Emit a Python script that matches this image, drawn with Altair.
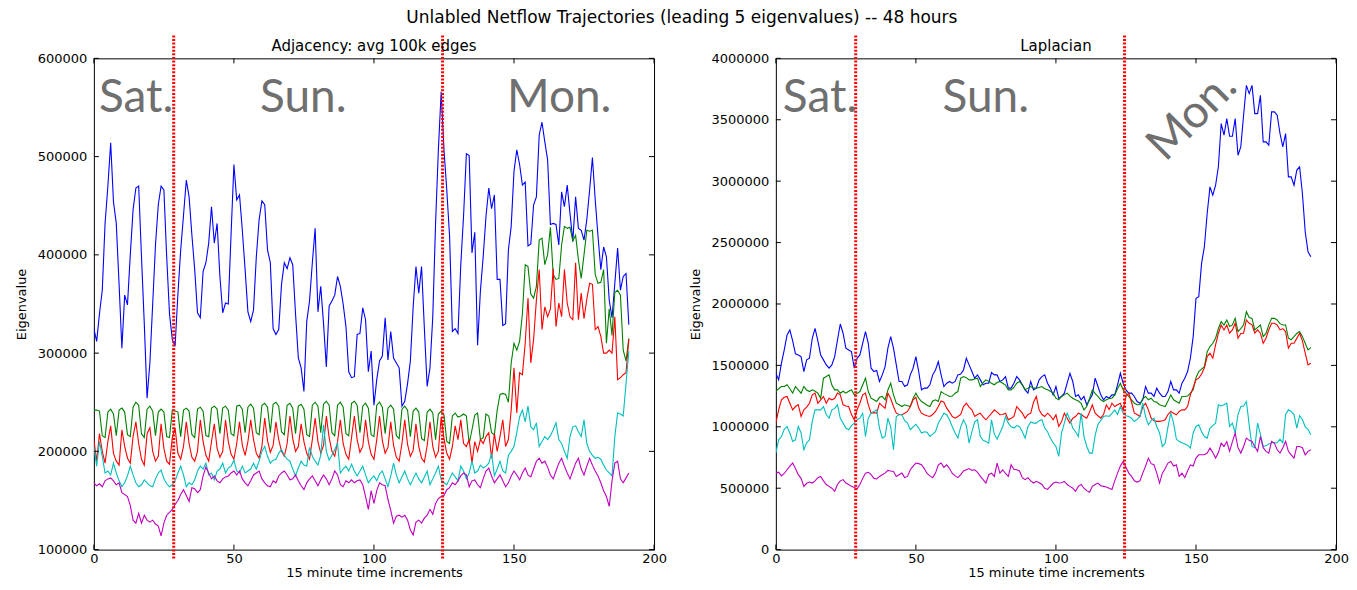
import altair as alt
import pandas as pd

# ---------------- data (eigenvalues, in thousands) ----------------
x_steps = list(range(192))

adj_e1 = [325, 312, 340, 364, 432, 470, 514, 454, 432, 370,
          305, 359, 349, 400, 446, 468, 470, 398, 330, 254,
          290, 350, 410, 451, 470, 466, 398, 340, 314, 307,
          360, 405, 440, 476, 459, 420, 385, 341, 336, 383,
          392, 412, 449, 412, 432, 378, 341, 351, 350, 422,
          492, 456, 461, 425, 385, 342, 332, 344, 398, 436,
          455, 451, 405, 392, 325, 319, 324, 370, 392, 386,
          397, 390, 340, 295, 285, 261, 332, 353, 392, 427,
          342, 368, 330, 286, 348, 353, 359, 378, 368, 350,
          327, 281, 275, 276, 319, 320, 346, 334, 281, 302,
          247, 273, 292, 297, 336, 293, 322, 295, 290, 285,
          246, 251, 269, 292, 347, 388, 361, 388, 325, 266,
          285, 337, 432, 507, 566, 507, 466, 419, 322, 325,
          320, 390, 440, 503, 501, 402, 423, 308, 363, 398,
          439, 468, 447, 461, 375, 375, 328, 330, 405, 429,
          485, 507, 492, 471, 474, 409, 411, 451, 459, 522,
          535, 515, 497, 431, 432, 431, 410, 464, 449, 471,
          442, 414, 459, 427, 425, 415, 436, 466, 499, 456,
          419, 385, 408, 398, 354, 336, 371, 407, 364, 378,
          381, 329]

adj_e2 = [242, 242, 241, 216, 214, 240, 243, 238, 216, 242,
          244, 240, 217, 215, 245, 250, 247, 218, 214, 243,
          246, 241, 216, 240, 243, 240, 215, 214, 242, 241,
          240, 215, 242, 244, 241, 217, 214, 243, 245, 241,
          216, 215, 244, 246, 243, 218, 244, 246, 242, 218,
          216, 246, 247, 243, 219, 245, 248, 244, 219, 217,
          247, 249, 245, 219, 248, 250, 246, 220, 217, 247,
          249, 244, 218, 246, 248, 243, 217, 215, 247, 250,
          246, 219, 248, 251, 247, 219, 216, 247, 250, 245,
          218, 216, 249, 251, 247, 219, 246, 249, 244, 217,
          215, 247, 250, 245, 218, 244, 247, 243, 216, 213,
          243, 246, 242, 215, 241, 244, 240, 213, 211, 240,
          243, 239, 212, 238, 241, 237, 210, 208, 236, 239,
          235, 236, 238, 236, 208, 222, 237, 239, 212, 214,
          238, 236, 219, 217, 242, 258, 259, 258, 250, 290,
          310, 303, 312, 340, 390, 388, 360, 356, 368, 415,
          417, 390, 400, 428, 380, 375, 376, 410, 429, 427,
          428, 414, 420, 395, 376, 400, 425, 424, 425, 380,
          371, 372, 385, 310, 345, 318, 362, 364, 359, 303,
          292, 315]

adj_e3 = [212, 190, 218, 200, 188, 210, 226, 198, 190, 186,
          222, 205, 193, 188, 215, 230, 208, 192, 186, 218,
          224, 200, 190, 195, 228, 203, 190, 187, 214, 224,
          198, 192, 205, 230, 208, 194, 190, 200, 232, 210,
          196, 190, 210, 228, 203, 194, 200, 232, 210, 197,
          192, 208, 230, 206, 196, 210, 232, 212, 198, 193,
          205, 234, 211, 199, 206, 230, 212, 200, 195, 208,
          236, 213, 200, 205, 228, 210, 198, 192, 212, 234,
          210, 198, 206, 236, 214, 200, 195, 210, 232, 208,
          197, 192, 214, 236, 212, 199, 205, 232, 210, 197,
          192, 212, 236, 211, 198, 204, 230, 206, 194, 190,
          208, 232, 207, 195, 201, 228, 205, 193, 189, 206,
          230, 205, 194, 200, 235, 213, 198, 192, 205, 226,
          212, 232, 208, 205, 212, 188, 210, 200, 212, 208,
          215, 219, 193, 218, 200, 215, 232, 205, 212, 242,
          285, 239, 280, 278, 310, 356, 290, 314, 354, 385,
          324, 347, 337, 345, 386, 327, 351, 337, 385, 351,
          337, 334, 392, 334, 361, 335, 355, 371, 370, 324,
          327, 317, 300, 300, 303, 300, 337, 273, 275, 278,
          280, 314]

adj_e4 = [205, 185, 210, 195, 178, 180, 176, 188, 178, 170,
          164, 168, 175, 185, 176, 168, 164, 166, 171, 168,
          165, 164, 172, 178, 181, 172, 167, 164, 166, 170,
          178, 185, 176, 164, 168, 166, 171, 180, 185, 182,
          188, 176, 178, 171, 180, 182, 188, 178, 183, 185,
          191, 180, 178, 185, 178, 180, 182, 188, 182, 190,
          200, 205, 195, 188, 191, 192, 198, 202, 196, 192,
          190, 182, 175, 183, 190, 186, 185, 204, 195, 190,
          186, 196, 227, 200, 191, 196, 202, 208, 178, 182,
          185, 180, 187, 180, 175, 180, 185, 176, 168, 172,
          175, 170, 177, 180, 172, 164, 175, 188, 176, 168,
          174, 180, 172, 166, 172, 178, 172, 168, 174, 180,
          166, 172, 178, 185, 171, 168, 166, 172, 178, 174,
          170, 185, 180, 172, 178, 190, 178, 180, 186, 183,
          185, 188, 198, 175, 182, 190, 180, 178, 196, 200,
          205, 219, 235, 242, 230, 246, 225, 222, 229, 205,
          210, 215, 212, 216, 222, 229, 212, 208, 200, 193,
          215, 225, 226, 220, 215, 232, 208, 200, 196, 193,
          194, 192, 186, 181, 178, 175, 215, 239, 238, 236,
          269, 302]

adj_e5 = [168, 165, 167, 164, 170, 172, 173, 170, 166, 168,
          158, 156, 154, 145, 130, 127, 137, 127, 135, 130,
          128, 130, 126, 124, 114, 127, 135, 138, 141, 146,
          150, 156, 161, 155, 149, 163, 162, 158, 161, 175,
          184, 178, 172, 175, 170, 168, 172, 174, 175, 178,
          180, 176, 180, 172, 168, 165, 170, 176, 178, 180,
          172, 168, 165, 164, 170, 168, 175, 178, 180, 176,
          171, 172, 176, 170, 165, 161, 168, 172, 175, 170,
          165, 171, 176, 172, 166, 172, 180, 176, 166, 164,
          170, 168, 171, 168, 170, 171, 166, 154, 141, 160,
          147, 160, 168, 166, 165, 151, 140, 127, 134, 135,
          133, 135, 130, 120, 115, 128, 130, 127, 132, 135,
          141, 136, 147, 152, 154, 155, 161, 163, 168, 166,
          170, 175, 178, 176, 164, 170, 171, 166, 163, 172,
          180, 183, 175, 168, 172, 176, 170, 164, 168, 175,
          180, 176, 171, 178, 183, 176, 174, 182, 190, 193,
          188, 190, 184, 176, 172, 180, 188, 193, 185, 178,
          172, 180, 188, 193, 182, 176, 185, 193, 186, 180,
          175, 168, 160, 154, 144, 170, 188, 190, 172, 168,
          173, 178]

lap_e1 = [1436, 1382, 1518, 1626, 1748, 1789, 1700, 1594, 1585, 1572,
          1450, 1545, 1558, 1721, 1802, 1700, 1585, 1545, 1504, 1477,
          1504, 1572, 1707, 1837, 1762, 1640, 1626, 1612, 1477, 1558,
          1585, 1680, 1775, 1680, 1477, 1450, 1458, 1369, 1423, 1490,
          1640, 1734, 1640, 1504, 1369, 1369, 1328, 1342, 1423, 1477,
          1572, 1450, 1301, 1315, 1315, 1342, 1423, 1463, 1531, 1423,
          1328, 1355, 1369, 1355, 1369, 1423, 1430, 1463, 1558, 1504,
          1450, 1396, 1423, 1382, 1342, 1355, 1355, 1442, 1423, 1423,
          1369, 1382, 1409, 1315, 1315, 1355, 1409, 1382, 1342, 1301,
          1274, 1369, 1301, 1315, 1382, 1409, 1423, 1355, 1315, 1260,
          1328, 1233, 1247, 1274, 1355, 1436, 1369, 1247, 1260, 1220,
          1247, 1179, 1220, 1260, 1396, 1328, 1260, 1220, 1247, 1233,
          1260, 1260, 1342, 1436, 1355, 1301, 1274, 1274, 1247, 1206,
          1192, 1220, 1328, 1274, 1274, 1247, 1315, 1274, 1247, 1247,
          1287, 1369, 1301, 1301, 1274, 1355, 1396, 1450, 1558, 1734,
          2046, 2060, 2331, 2466, 2737, 2954, 2886, 2967, 3117, 3469,
          3374, 3509, 3366, 3366, 3509, 3211, 3279, 3537, 3780, 3713,
          3780, 3550, 3550, 3699, 3320, 3320, 3293, 3564, 3564, 3537,
          3388, 3279, 3388, 3035, 3035, 2967, 3090, 3117, 2900, 2588,
          2425, 2385]

lap_e2 = [1287, 1310, 1328, 1328, 1342, 1310, 1274, 1328, 1300, 1274,
          1328, 1300, 1287, 1301, 1290, 1274, 1233, 1396, 1409, 1423,
          1340, 1301, 1301, 1274, 1290, 1274, 1290, 1301, 1260, 1270,
          1287, 1340, 1396, 1287, 1233, 1220, 1206, 1240, 1247, 1220,
          1300, 1355, 1260, 1192, 1180, 1165, 1179, 1172, 1165, 1230,
          1274, 1233, 1206, 1192, 1175, 1165, 1210, 1220, 1206, 1287,
          1270, 1260, 1247, 1250, 1274, 1287, 1396, 1409, 1400, 1382,
          1382, 1390, 1396, 1328, 1360, 1382, 1370, 1355, 1342, 1360,
          1369, 1355, 1340, 1301, 1301, 1320, 1355, 1369, 1340, 1301,
          1315, 1328, 1315, 1315, 1320, 1328, 1310, 1301, 1290, 1274,
          1233, 1220, 1247, 1260, 1274, 1250, 1233, 1220, 1210, 1192,
          1138, 1165, 1230, 1301, 1270, 1247, 1220, 1206, 1220, 1230,
          1233, 1260, 1310, 1355, 1301, 1274, 1247, 1220, 1192, 1179,
          1179, 1230, 1247, 1220, 1233, 1206, 1200, 1180, 1172, 1165,
          1210, 1260, 1220, 1206, 1192, 1247, 1247, 1250, 1274, 1301,
          1400, 1450, 1470, 1490, 1612, 1653, 1680, 1721, 1800, 1856,
          1829, 1870, 1816, 1829, 1883, 1775, 1800, 1829, 1937, 1890,
          1883, 1789, 1810, 1829, 1734, 1760, 1830, 1883, 1883, 1870,
          1840, 1829, 1829, 1721, 1708, 1734, 1760, 1775, 1734, 1680,
          1626, 1645]

lap_e3 = [1030, 1138, 1220, 1240, 1247, 1192, 1138, 1165, 1180, 1084,
          1138, 1160, 1192, 1260, 1274, 1192, 1220, 1247, 1192, 1233,
          1220, 1230, 1274, 1260, 1179, 1170, 1165, 1100, 1057, 1138,
          1192, 1260, 1274, 1179, 1111, 1115, 1111, 1192, 1170, 1152,
          1274, 1230, 1165, 1111, 1100, 1098, 1110, 1125, 1165, 1220,
          1240, 1152, 1111, 1098, 1090, 1084, 1100, 1125, 1165, 1210,
          1200, 1152, 1120, 1084, 1070, 1084, 1100, 1165, 1192, 1160,
          1138, 1084, 1100, 1111, 1080, 1057, 1084, 1110, 1138, 1120,
          1098, 1100, 1111, 1057, 1070, 1084, 1165, 1138, 1111, 1070,
          1100, 1111, 1200, 1247, 1138, 1100, 1084, 1111, 1090, 1057,
          1098, 1003, 1040, 1111, 1070, 1030, 1070, 1084, 1111, 1100,
          1084, 1070, 1120, 1179, 1111, 1090, 1070, 1100, 1179, 1140,
          1192, 1165, 1180, 1192, 1138, 1247, 1274, 1200, 1111, 1100,
          1084, 1165, 1192, 1138, 1071, 1050, 1044, 1044, 1050, 1057,
          1100, 1125, 1111, 1098, 1125, 1138, 1138, 1165, 1260, 1320,
          1382, 1396, 1430, 1480, 1572, 1599, 1558, 1667, 1760, 1829,
          1789, 1829, 1762, 1789, 1843, 1721, 1760, 1762, 1870, 1843,
          1830, 1762, 1789, 1762, 1680, 1721, 1790, 1843, 1843, 1830,
          1789, 1800, 1775, 1640, 1680, 1680, 1720, 1762, 1700, 1599,
          1504, 1517]

lap_e4 = [786, 894, 921, 980, 1003, 949, 881, 894, 1003, 950,
          813, 870, 894, 1044, 1138, 1138, 1138, 1165, 1100, 1070,
          1138, 1150, 1179, 1070, 1030, 990, 976, 1010, 1030, 1057,
          1070, 1111, 921, 1070, 1111, 1125, 1138, 990, 908, 921,
          1070, 1000, 813, 1084, 1098, 1098, 1050, 1030, 976, 1000,
          1020, 990, 949, 960, 955, 921, 940, 960, 1030, 1070,
          1111, 1098, 1057, 1000, 949, 908, 1000, 1057, 1010, 867,
          960, 1040, 1057, 921, 890, 881, 867, 1057, 940, 900,
          949, 1000, 1084, 1030, 1000, 990, 1010, 1000, 960, 908,
          1000, 1040, 1030, 1030, 1050, 1057, 990, 960, 908, 870,
          840, 759, 949, 1030, 1111, 1060, 990, 960, 921, 1111,
          921, 840, 786, 786, 930, 1020, 1050, 1084, 1090, 1084,
          1110, 1138, 1100, 1165, 1111, 1090, 1084, 1070, 1044, 1060,
          1084, 1192, 1084, 1016, 1050, 1070, 1003, 950, 840, 867,
          1000, 1111, 1030, 900, 880, 870, 860, 850, 827, 950,
          1003, 1016, 960, 921, 908, 990, 1010, 1030, 1179, 1170,
          1180, 1192, 1003, 1030, 949, 1100, 1165, 1170, 1206, 1016,
          840, 830, 1030, 940, 840, 845, 860, 870, 870, 870,
          900, 870, 1100, 1138, 1125, 1100, 990, 1090, 1060, 1000,
          980, 935]

lap_e5 = [623, 630, 600, 620, 650, 680, 705, 660, 610, 580,
          515, 540, 550, 542, 560, 586, 596, 560, 530, 515,
          500, 475, 530, 560, 570, 542, 530, 515, 505, 496,
          530, 580, 623, 630, 610, 580, 575, 596, 610, 623,
          645, 640, 636, 596, 610, 623, 586, 596, 650, 680,
          705, 700, 691, 660, 620, 600, 586, 623, 690, 705,
          670, 691, 660, 620, 600, 586, 610, 640, 650, 660,
          645, 650, 630, 596, 570, 542, 610, 623, 596, 705,
          623, 650, 620, 596, 691, 655, 650, 640, 586, 570,
          586, 560, 542, 556, 545, 530, 500, 490, 515, 540,
          550, 542, 545, 556, 530, 515, 500, 475, 515, 530,
          500, 480, 467, 515, 530, 542, 520, 515, 510, 500,
          490, 560, 623, 680, 718, 670, 623, 596, 560, 550,
          560, 623, 680, 745, 700, 691, 623, 542, 623, 660,
          705, 718, 680, 691, 596, 623, 586, 640, 690, 680,
          745, 772, 772, 772, 786, 827, 790, 745, 790, 867,
          840, 880, 800, 880, 949, 830, 786, 840, 908, 890,
          880, 840, 800, 921, 830, 800, 786, 881, 867, 813,
          786, 830, 881, 800, 772, 745, 840, 840, 830, 772,
          800, 813]

series_names = ["e1", "e2", "e3", "e4", "e5"]
series_colors = ["#0000ff", "#008000", "#ff0000", "#00bfbf", "#bf00bf"]

day_bounds = [28.5, 124.5]
day_labels = ["Sat.", "Sun.", "Mon."]
adj_label_x = [1.8, 59.3, 147.5]
adj_label_y = [545000, 545000, 545000]
lap_label_x = [2.5, 59.5]
lap_label_y = [3561000, 3561000]
lap_mon_x = [139.0]
lap_mon_y = [3150000]

x_ticks = [0, 50, 100, 150, 200]
adj_y_ticks = [100000, 200000, 300000, 400000, 500000, 600000]
lap_y_ticks = [0, 500000, 1000000, 1500000, 2000000, 2500000, 3000000, 3500000, 4000000]

for arr in [adj_e1, adj_e2, adj_e3, adj_e4, adj_e5, lap_e1, lap_e2, lap_e3, lap_e4, lap_e5]:
    assert len(arr) == 192, len(arr)


def long_df(arrs):
    rows = []
    for name, arr in zip(series_names, arrs):
        for xi, v in zip(x_steps, arr):
            rows.append({"t": xi, "val": v * 1000, "s": name})
    return pd.DataFrame(rows)


W, H = 561, 492
TICK = 5
FONT = "DejaVu Sans"
DAY_FONT = "Lato"
DAY_COLOR = "#6f6f6f"
DAY_SIZE = 46


def panel(arrs, title, ydom, yticks, texts, rot_text=None):
    xs = alt.Scale(domain=[0, 200], nice=False, zero=False)
    ys = alt.Scale(domain=ydom, nice=False, zero=False)
    xaxis = alt.Axis(values=x_ticks, title="15 minute time increments", labelPadding=3,
                     titlePadding=1)
    yaxis = alt.Axis(values=yticks, format="d", title="Eigenvalue", labelPadding=7,
                     titlePadding=9)
    X = alt.X("t:Q", scale=xs, axis=xaxis)
    Y = alt.Y("val:Q", scale=ys, axis=yaxis)

    lines = alt.Chart(long_df(arrs)).mark_line(strokeWidth=1.1, clip=True).encode(
        x=X, y=Y,
        color=alt.Color("s:N", scale=alt.Scale(domain=series_names, range=series_colors),
                        legend=None),
    )
    xt = alt.Chart(pd.DataFrame({"t": x_ticks}))
    yt = alt.Chart(pd.DataFrame({"val": yticks}))
    ticks = [
        xt.mark_rule(color="black", strokeWidth=1).encode(x=X, y=alt.value(H), y2=alt.value(H - TICK)),
        xt.mark_rule(color="black", strokeWidth=1).encode(x=X, y=alt.value(0), y2=alt.value(TICK)),
        yt.mark_rule(color="black", strokeWidth=1).encode(y=Y, x=alt.value(0), x2=alt.value(TICK)),
        yt.mark_rule(color="black", strokeWidth=1).encode(y=Y, x=alt.value(W), x2=alt.value(W - TICK)),
    ]
    bounds = alt.Chart(pd.DataFrame({"t": day_bounds})).mark_rule(
        color="#ff0000", strokeWidth=3, strokeDash=[2, 1.6], clip=False
    ).encode(x=X, y=alt.value(-23), y2=alt.value(H + 10))

    tx, ty, tl = texts
    day_txt = alt.Chart(pd.DataFrame({"t": tx, "val": ty, "label": tl})).mark_text(
        font=DAY_FONT, fontSize=DAY_SIZE, color=DAY_COLOR, align="left", baseline="alphabetic"
    ).encode(x=X, y=Y, text="label:N")
    layers = [day_txt, lines] + ticks + [bounds]
    if rot_text is not None:
        rx, ry, rl = rot_text
        layers.append(
            alt.Chart(pd.DataFrame({"t": rx, "val": ry, "label": rl})).mark_text(
                font=DAY_FONT, fontSize=DAY_SIZE, color=DAY_COLOR, align="left",
                baseline="alphabetic", angle=315
            ).encode(x=X, y=Y, text="label:N")
        )
    return alt.layer(*layers).properties(
        width=W, height=H,
        title=alt.TitleParams(title, fontSize=15, font=FONT, fontWeight="normal",
                              color="black", offset=-20),
    )


left = panel([adj_e1, adj_e2, adj_e3, adj_e4, adj_e5], "Adjacency: avg 100k edges",
             [100000, 600000], adj_y_ticks, (adj_label_x, adj_label_y, day_labels))
right = panel([lap_e1, lap_e2, lap_e3, lap_e4, lap_e5], "Laplacian",
              [0, 4000000], lap_y_ticks, (lap_label_x, lap_label_y, day_labels[:2]),
              rot_text=(lap_mon_x, lap_mon_y, day_labels[2:]))

chart = alt.hconcat(left, right, spacing=21).properties(
    title=alt.TitleParams("Unlabled Netflow Trajectories (leading 5 eigenvalues) -- 48 hours",
                          fontSize=17, font=FONT, fontWeight="normal", color="black",
                          anchor="middle", offset=6),
    background="white",
    padding={"left": 6, "top": 1, "right": 0, "bottom": 0},
).configure_view(stroke="black", strokeWidth=1).configure_axis(
    grid=False, domain=False, ticks=False, labelFont=FONT, labelFontSize=13,
    labelColor="black", titleFont=FONT, titleFontSize=13, titleFontWeight="normal",
    titleColor="black", labelFlush=False,
)

chart.save("out.html", embed_options={"renderer": "svg", "actions": False})
